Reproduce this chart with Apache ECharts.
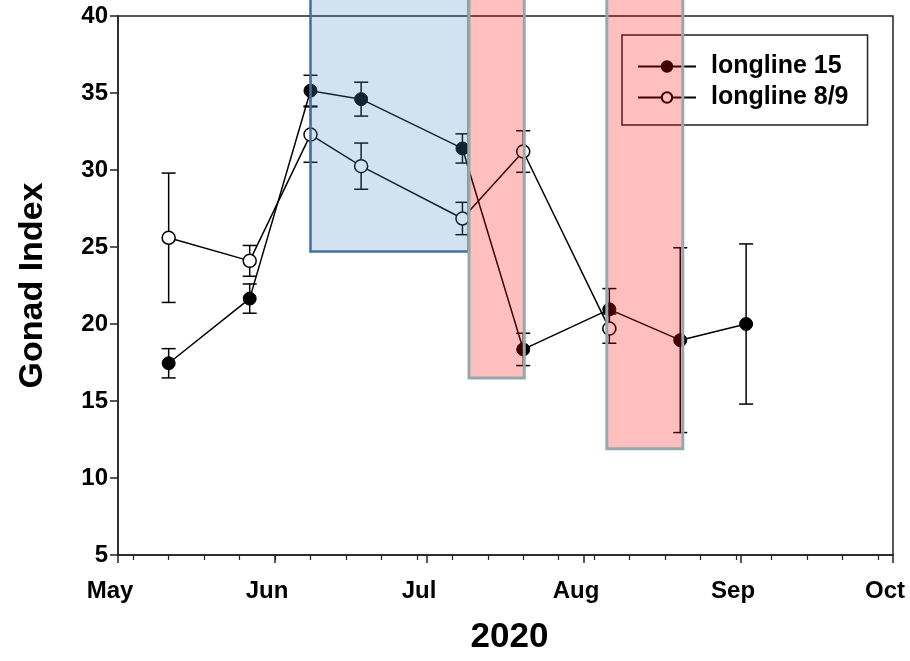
<!DOCTYPE html>
<html>
<head>
<meta charset="utf-8">
<script src="https://cdn.jsdelivr.net/npm/echarts@6/dist/echarts.min.js"></script>
<style>
  html, body { margin: 0; padding: 0; background: #fff; }
  #main { width: 910px; height: 661px; }
</style>
</head>
<body>
<div id="main"></div>
<script>
// x values are days after 1 May 2020
var monthStart = [0, 31, 61, 92, 123, 153];
var monthNames = ['May', 'Jun', 'Jul', 'Aug', 'Sep', 'Oct'];

// longline 15 (filled)
var days15 = [10, 26, 38, 48, 68, 80, 97, 111, 124];
var gonad15 = [17.45, 21.65, 35.15, 34.6, 31.4, 18.35, 20.95, 18.95, 20.0];
var err15 = [0.95, 0.95, 1.0, 1.1, 0.95, 1.05, 1.35, 6.0, 5.2];

// longline 8/9 (open)
var days89 = [10, 26, 38, 48, 68, 80, 97];
var gonad89 = [25.6, 24.1, 32.3, 30.25, 26.85, 31.2, 19.7];
var err89 = [4.2, 1.0, 1.8, 1.5, 1.05, 1.35, 0.95];

// shaded periods: start day, end day, lower value
var periodStart = [38, 69.3, 96.5];
var periodEnd = [69.2, 80.2, 111.5];
var periodLow = [24.7, 16.5, 11.9];
var periodKind = ['blue', 'red', 'red'];

var font = "'Liberation Sans', Arial, sans-serif";

// weekly minor ticks (Mondays)
var weekTicks = [];
for (var d = 3; d <= 153; d += 7) {
  weekTicks.push(d);
}

function pairs(xs, ys) {
  var out = [];
  for (var i = 0; i < xs.length; i++) {
    out.push([xs[i], ys[i]]);
  }
  return out;
}

function bars(xs, ys, es) {
  var out = [];
  for (var i = 0; i < xs.length; i++) {
    out.push([xs[i], ys[i] - es[i], ys[i] + es[i]]);
  }
  return out;
}

function errorBar(params, api) {
  var x = api.value(0);
  var lo = api.coord([x, api.value(1)]);
  var hi = api.coord([x, api.value(2)]);
  var w = 7;
  var st = { stroke: '#000', lineWidth: 1.5 };
  return {
    type: 'group',
    children: [
      { type: 'line', shape: { x1: hi[0], y1: hi[1], x2: lo[0], y2: lo[1] }, style: st },
      { type: 'line', shape: { x1: hi[0] - w, y1: hi[1], x2: hi[0] + w, y2: hi[1] }, style: st },
      { type: 'line', shape: { x1: lo[0] - w, y1: lo[1], x2: lo[0] + w, y2: lo[1] }, style: st }
    ]
  };
}

var periods = [];
for (var i = 0; i < periodStart.length; i++) {
  periods.push([periodStart[i], periodEnd[i], periodLow[i], 43]);
}

function periodRect(params, api) {
  var a = api.coord([api.value(0), api.value(3)]);
  var b = api.coord([api.value(1), api.value(2)]);
  var blue = periodKind[params.dataIndex] === 'blue';
  return {
    type: 'rect',
    shape: { x: a[0], y: a[1], width: b[0] - a[0], height: b[1] - a[1] },
    style: {
      fill: blue ? 'rgba(79,139,199,0.25)' : 'rgba(255,0,0,0.25)',
      stroke: blue ? '#41719c' : '#93aaad',
      lineWidth: blue ? 2.5 : 3
    }
  };
}

var myChart = echarts.init(document.getElementById('main'));
myChart.setOption({
  animation: false,
  grid: {
    left: 118,
    right: 17,
    top: 16,
    bottom: 106,
    outerBoundsMode: 'none',
    show: true,
    borderColor: '#222',
    borderWidth: 1.5,
    backgroundColor: 'transparent'
  },
  legend: {
    orient: 'vertical',
    left: 622,
    top: 35,
    padding: [19, 19, 15, 15],
    itemWidth: 58,
    itemHeight: 13,
    itemGap: 6,
    borderColor: '#222',
    borderWidth: 1.5,
    textStyle: { fontFamily: font, fontWeight: 'bold', fontSize: 25, color: '#000', padding: [0, 0, 0, 10] },
    data: ['longline 15', 'longline 8/9']
  },
  xAxis: [
    {
      type: 'value',
      position: 'bottom',
      min: 0,
      max: 153,
      name: '2020',
      nameLocation: 'middle',
      nameGap: 65,
      nameTextStyle: { fontFamily: font, fontWeight: 'bold', fontSize: 35, color: '#000', padding: [0, 0, 0, 8] },
      axisLine: { lineStyle: { color: '#222', width: 1.5 } },
      axisTick: { customValues: monthStart, length: 8, lineStyle: { color: '#222', width: 1.5 } },
      axisLabel: {
        customValues: monthStart,
        margin: 24,
        padding: [0, 16, 0, 0],
        fontFamily: font,
        fontWeight: 'bold',
        fontSize: 24,
        color: '#000',
        formatter: function (v) {
          return monthNames[monthStart.indexOf(v)];
        }
      },
      splitLine: { show: false }
    },
    {
      type: 'value',
      position: 'bottom',
      min: 0,
      max: 153,
      axisLine: { show: false },
      axisTick: { customValues: weekTicks, length: 5, lineStyle: { color: '#222', width: 1.2 } },
      axisLabel: { show: false },
      splitLine: { show: false }
    }
  ],
  yAxis: {
    type: 'value',
    min: 5,
    max: 40,
    interval: 5,
    name: 'Gonad Index',
    nameLocation: 'middle',
    nameGap: 68,
    nameTextStyle: { fontFamily: font, fontWeight: 'bold', fontSize: 34, color: '#000' },
    axisLine: { show: true, lineStyle: { color: '#222', width: 1.5 } },
    axisTick: { show: true, length: 8, lineStyle: { color: '#222', width: 1.5 } },
    axisLabel: { margin: 10, fontFamily: font, fontWeight: 'bold', fontSize: 24, color: '#000' },
    splitLine: { show: false }
  },
  series: [
    {
      type: 'custom',
      name: 'err89',
      renderItem: errorBar,
      data: bars(days89, gonad89, err89),
      z: 2,
      silent: true
    },
    {
      type: 'custom',
      name: 'err15',
      renderItem: errorBar,
      data: bars(days15, gonad15, err15),
      z: 2,
      silent: true
    },
    {
      name: 'longline 8/9',
      type: 'line',
      data: pairs(days89, gonad89),
      symbol: 'circle',
      symbolSize: 13,
      showAllSymbol: true,
      itemStyle: { color: '#fff', borderColor: '#000', borderWidth: 1.5 },
      lineStyle: { color: '#000', width: 1.5 },
      z: 3
    },
    {
      name: 'longline 15',
      type: 'line',
      data: pairs(days15, gonad15),
      symbol: 'circle',
      symbolSize: 13,
      showAllSymbol: true,
      itemStyle: { color: '#000', borderColor: '#000', borderWidth: 1 },
      lineStyle: { color: '#000', width: 1.5 },
      z: 4
    },
    {
      type: 'custom',
      name: 'periods',
      renderItem: periodRect,
      data: periods,
      clip: false,
      z: 10,
      silent: true
    }
  ]
});
</script>
</body>
</html>
